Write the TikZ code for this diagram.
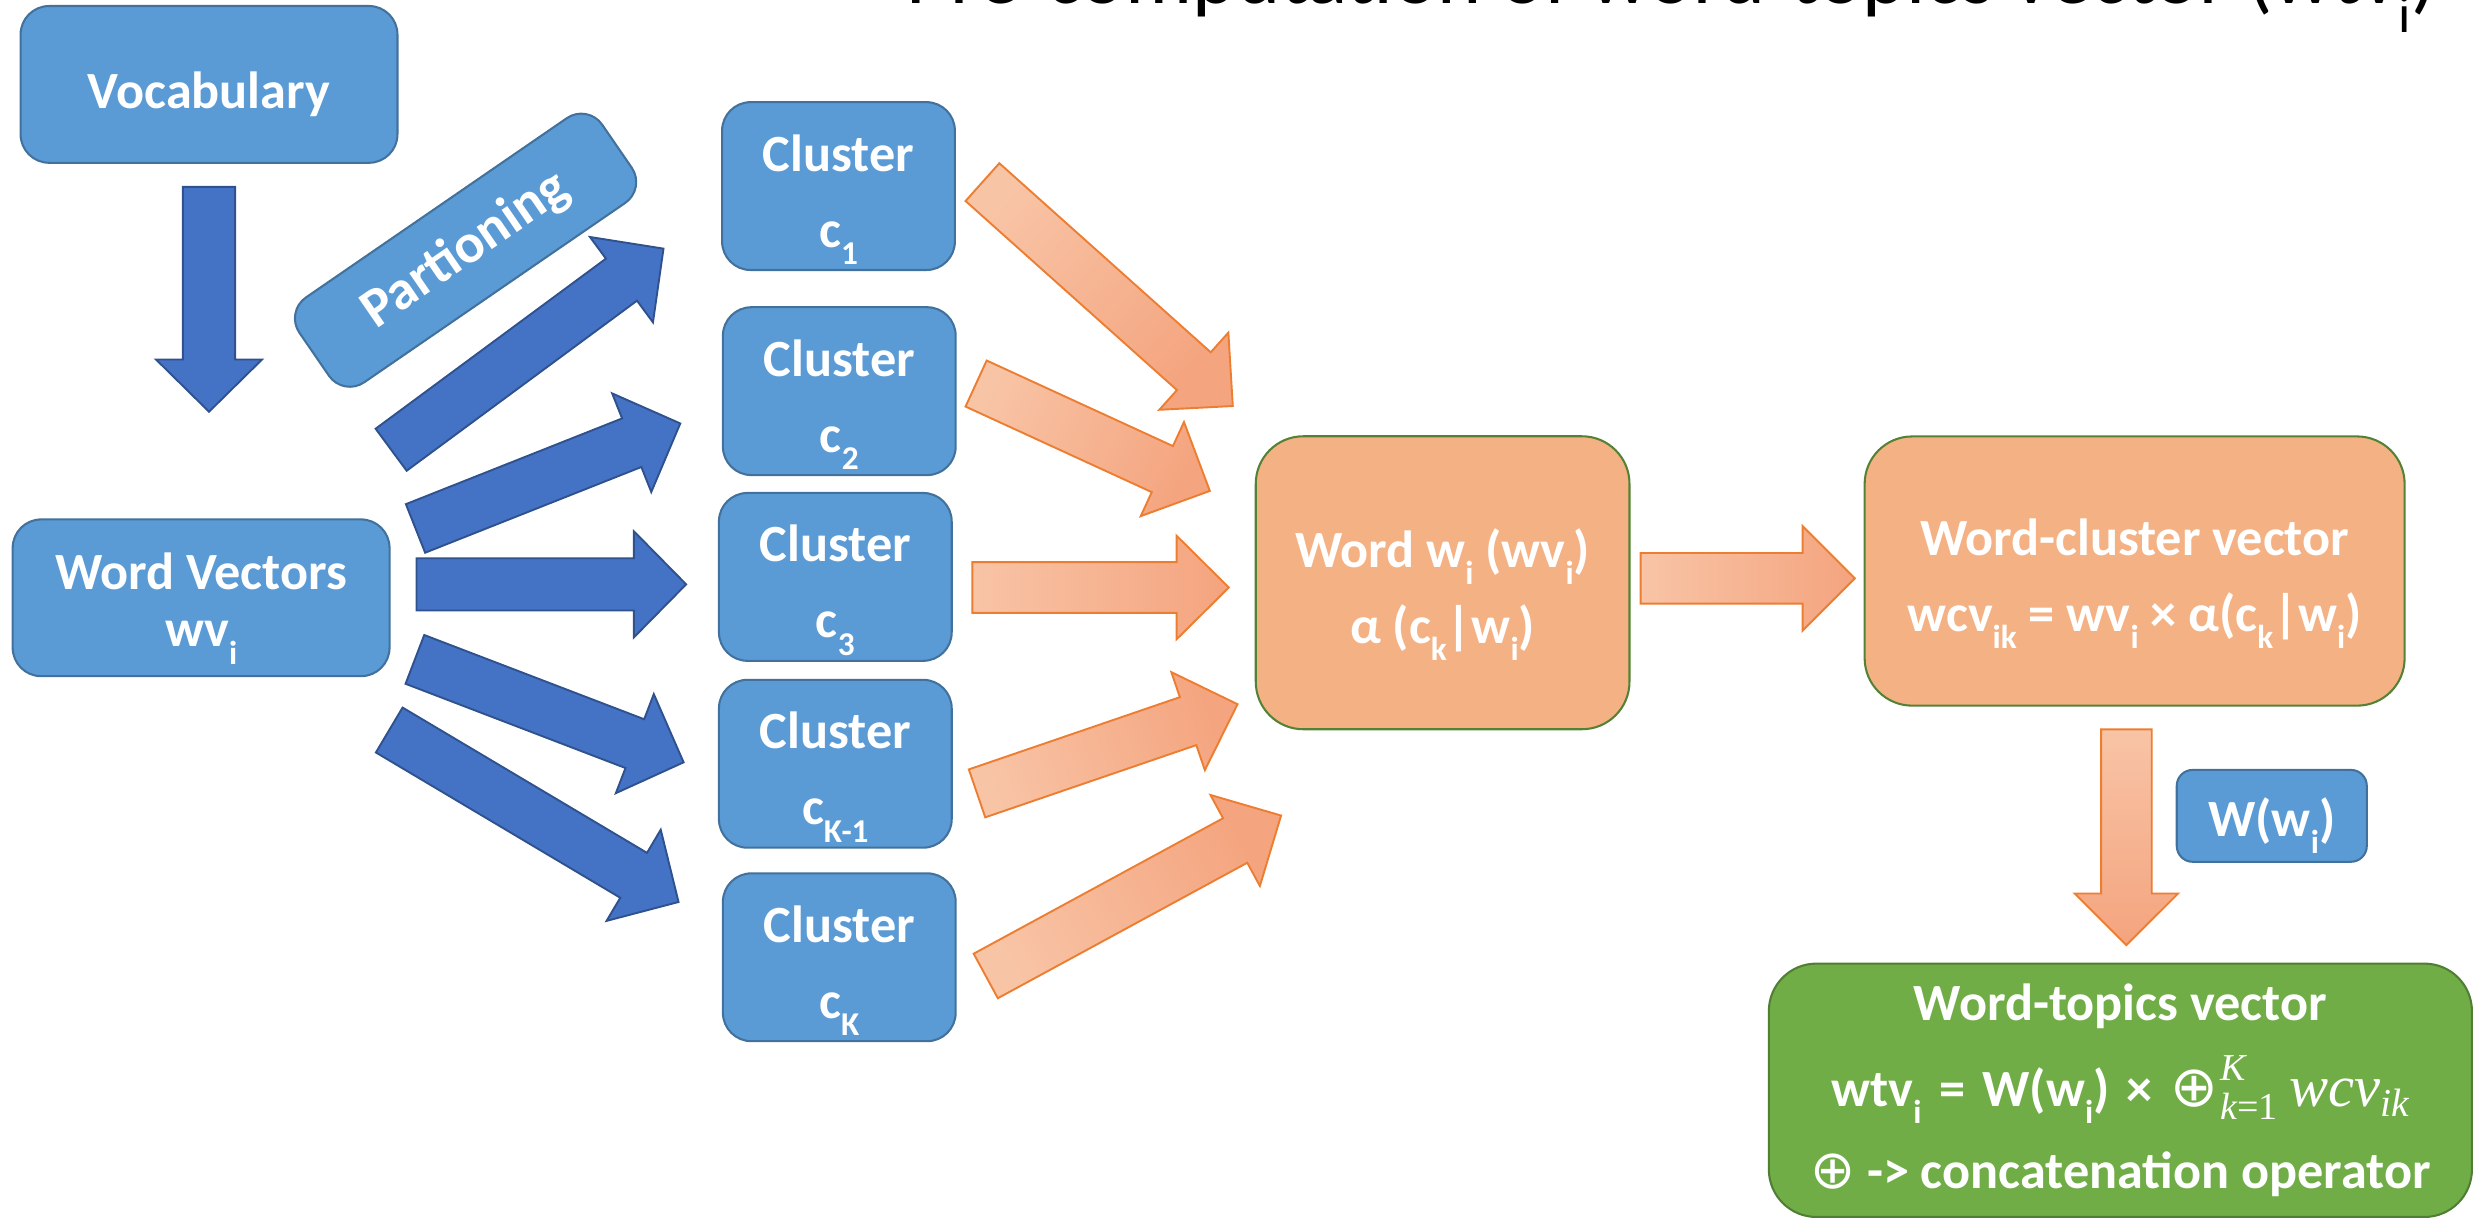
\documentclass[tikz,border=0pt]{standalone}
\usepackage{fontspec}
\setmainfont{Carlito}
\newfontfamily\opfont{DejaVu Sans}
\newfontfamily\mserif{Liberation Serif}
\usetikzlibrary{calc}

\definecolor{boxblue}{HTML}{5B9BD5}
\definecolor{boxblueline}{HTML}{41719C}
\definecolor{arrblue}{HTML}{4472C4}
\definecolor{arrblueline}{HTML}{2F528F}
\definecolor{boxorange}{HTML}{F4B183}
\definecolor{boxorangeline}{HTML}{548235}
\definecolor{arrorangeA}{HTML}{F8C4A6}
\definecolor{arrorangeB}{HTML}{F4A47E}
\definecolor{arrorangeline}{HTML}{ED7D31}
\definecolor{boxgreen}{HTML}{70AD47}
\definecolor{boxgreenline}{HTML}{507E32}

% lowered subscript in the style of the slide text
\newcommand\sbs[1]{\raisebox{-0.33em}{\fontsize{21}{21}\selectfont #1}}
\newcommand\tsbs[1]{\raisebox{-0.34em}{\fontsize{34}{34}\selectfont #1}}
% concatenation operator and formula pieces
\newcommand\opsym[1][33]{{\opfont\mdseries\fontsize{#1}{#1}\selectfont ⊕}}
\newcommand\mitl[1]{{\mserif\mdseries\itshape #1}}
\newcommand\opsum{\opsym[36]\kern1.5pt\rlap{\raisebox{0.5em}{\fontsize{24}{24}\selectfont\mitl{K}}}%
  \raisebox{-0.24em}{\fontsize{24}{24}\selectfont\mitl{k}{\mserif\mdseries =1}}}
\newcommand\gap{\hspace{11pt}}

% block arrow: style, tail, tip, shaft half width, head half width, head length
\newcommand\blockarrow[6]{%
  \coordinate (ba-n) at ($(#3)!#6!(#2)$);
  \draw[#1] ($(#2)!#4!90:(#3)$) -- ($(ba-n)!#4!90:(#3)$) -- ($(ba-n)!#5!90:(#3)$)
    -- (#3) -- ($(ba-n)!#5!-90:(#3)$) -- ($(ba-n)!#4!-90:(#3)$)
    -- ($(#2)!#4!-90:(#3)$) -- cycle;}

\tikzset{
  box/.style={rounded corners=18pt, line width=1.3pt, text=white, align=center,
    font=\bfseries\fontsize{33}{48}\selectfont, inner sep=0pt},
  bluebox/.style={box, fill=boxblue, draw=boxblueline},
  orangebox/.style={box, fill=boxorange, draw=boxorangeline, rounded corners=30pt},
  greenbox/.style={box, fill=boxgreen, draw=boxgreenline, rounded corners=30pt},
  bluearrow/.style={fill=arrblue, draw=arrblueline, line width=1.2pt, line join=miter},
  orangearrow/.style={draw=arrorangeline, line width=1.2pt, top color=arrorangeB,
    bottom color=arrorangeA, shading angle=#1},
}

\begin{document}
\begin{tikzpicture}[x=1pt, y=-1pt]
\useasboundingbox (0,0) rectangle (1568,769);
\clip (0,0) rectangle (1568,769);

% title, mostly above the top edge
\node[anchor=base east, inner sep=0pt, font=\fontsize{53}{60}\selectfont] (title) at (1539,2.5)
  {Pre-computation of word-topics vector (wtv\tsbs{i})};

% left column
\node[bluebox, minimum width=238pt, minimum height=99pt] (vocab) at (132,53.3)
  {\rule{0pt}{35pt}Vocabulary};
\node[bluebox, minimum width=238pt, minimum height=99pt] (wv) at (127,377.5)
  {\rule{0pt}{37pt}Word Vectors\\[-12pt] wv\sbs{i}};
\node[bluebox, rotate=34.5, rounded corners=16pt, minimum width=232pt, minimum height=65pt,
  font=\bfseries\fontsize{35}{40}\selectfont] (part) at (294,158) {Partioning};

% clusters
\node[bluebox, minimum width=147pt, minimum height=106pt] (c1) at (529.5,117.5)
  {\rule{0pt}{40pt}Cluster\\ c\sbs{1}};
\node[bluebox, minimum width=147pt, minimum height=106pt] (c2) at (530,247)
  {\rule{0pt}{40pt}Cluster\\ c\sbs{2}};
\node[bluebox, minimum width=147pt, minimum height=106pt] (c3) at (527.5,364.3)
  {\rule{0pt}{40pt}Cluster\\ c\sbs{3}};
\node[bluebox, minimum width=147pt, minimum height=106pt] (ck1) at (527.5,482.3)
  {\rule{0pt}{40pt}Cluster\\ c\sbs{K-1}};
\node[bluebox, minimum width=147pt, minimum height=106pt] (ck) at (530,604.5)
  {\rule{0pt}{40pt}Cluster\\ c\sbs{K}};

% word and word-cluster boxes
\node[orangebox, minimum width=236pt, minimum height=185pt] (word) at (911,368)
  {\rule{0pt}{39pt}Word w\sbs{i} (wv\sbs{i})\\ α (c\sbs{k}|w\sbs{i})};
\node[orangebox, minimum width=341pt, minimum height=170pt] (wcv) at (1348,360.6)
  {\rule{0pt}{39pt}Word-cluster vector\\ wcv\sbs{ik} = wv\sbs{i} × α(c\sbs{k}|w\sbs{i})};

\node[bluebox, rounded corners=10pt, minimum width=120pt, minimum height=58pt] (wt) at (1434.6,515.2)
  {\rule{0pt}{37pt}W(w\sbs{i})};

\node[greenbox, minimum width=444pt, minimum height=160pt] (wtv) at (1339,688.5)
  {Word-topics vector\\[6pt]
   wtv\sbs{i}\gap=\gap W(w\sbs{i})\gap×\gap\opsum\ \mitl{\fontsize{37}{37}\selectfont wcv}\raisebox{-0.2em}{\fontsize{25}{25}\selectfont\mitl{ik}}\\[3.5pt]
   \opsym[34]\ -> concatenation operator};

% arrow end points
\coordinate (vb-s) at (132,118);    \coordinate (vb-e) at (132,260);
\coordinate (a1-s) at (247,284);    \coordinate (a1-e) at (419,157);
\coordinate (a2-s) at (262.4,333.7);\coordinate (a2-e) at (429.6,267.4);
\coordinate (a3-s) at (263,369);    \coordinate (a3-e) at (433.3,369);
\coordinate (a4-s) at (262,416.4);  \coordinate (a4-e) at (431.7,481.4);
\coordinate (a5-s) at (245.8,461);  \coordinate (a5-e) at (428.5,569.6);
\coordinate (o1-s) at (620.4,115);  \coordinate (o1-e) at (778.5,256.4);
\coordinate (o2-s) at (616.4,242.2);\coordinate (o2-e) at (764,310);
\coordinate (o3-s) at (614,371);    \coordinate (o3-e) at (776,371);
\coordinate (o4-s) at (617,501);    \coordinate (o4-e) at (781.5,444.7);
\coordinate (o5-s) at (622.5,616.3);\coordinate (o5-e) at (809,515);
\coordinate (o6-s) at (1036,365.2); \coordinate (o6-e) at (1171.3,365.2);
\coordinate (o7-s) at (1342.8,460.6);\coordinate (o7-e) at (1342.8,596.8);

% blue arrows
\blockarrow{bluearrow}{vb-s}{vb-e}{16.5pt}{33.5pt}{33pt}
\blockarrow{bluearrow}{a1-s}{a1-e}{16.5pt}{33.5pt}{33pt}
\blockarrow{bluearrow}{a2-s}{a2-e}{16.5pt}{33.5pt}{33pt}
\blockarrow{bluearrow}{a3-s}{a3-e}{16.5pt}{33.5pt}{33pt}
\blockarrow{bluearrow}{a4-s}{a4-e}{16.5pt}{33.5pt}{33pt}
\blockarrow{bluearrow}{a5-s}{a5-e}{16.5pt}{33.5pt}{33pt}

% orange arrows
\blockarrow{orangearrow=-132}{o1-s}{o1-e}{16pt}{32.7pt}{33pt}
\blockarrow{orangearrow=-115}{o2-s}{o2-e}{16pt}{32.7pt}{33pt}
\blockarrow{orangearrow=-90}{o3-s}{o3-e}{16pt}{32.7pt}{33pt}
\blockarrow{orangearrow=-71}{o4-s}{o4-e}{16pt}{32.7pt}{33pt}
\blockarrow{orangearrow=-62}{o5-s}{o5-e}{16pt}{32.7pt}{33pt}
\blockarrow{orangearrow=-90}{o6-s}{o6-e}{16pt}{33pt}{33pt}
\blockarrow{orangearrow=-180}{o7-s}{o7-e}{16pt}{32.7pt}{32.6pt}
\end{tikzpicture}
\end{document}
